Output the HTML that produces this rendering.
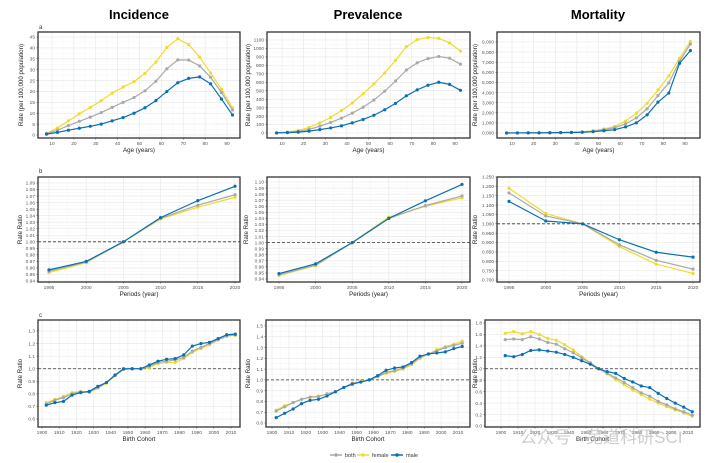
<!DOCTYPE html>
<html><head><meta charset="utf-8">
<style>
body{margin:0;background:#fff;}
svg{display:block;font-family:"Liberation Sans",sans-serif;}
</style></head>
<body>
<svg id="chart" width="709" height="463" viewBox="0 0 709 463">
<text x="139" y="19" text-anchor="middle" font-size="13" font-weight="bold">Incidence</text>
<text x="368" y="19" text-anchor="middle" font-size="13" font-weight="bold">Prevalence</text>
<text x="598" y="19" text-anchor="middle" font-size="13" font-weight="bold">Mortality</text>
<text x="39" y="29" font-size="6" fill="#333">a</text>
<text x="39" y="173" font-size="6" fill="#333">b</text>
<text x="39" y="317" font-size="6" fill="#333">c</text>
<g id="panels"></g>
<g>
<g><line x1="330" y1="455" x2="342" y2="455" stroke="#a9a9a9" stroke-width="1.5"/><circle cx="336" cy="455" r="1.8" fill="#a9a9a9"/><text x="345" y="457" font-size="5.5" fill="#333">both</text></g>
<g><line x1="357" y1="455" x2="369" y2="455" stroke="#f0dc2a" stroke-width="1.5"/><circle cx="363" cy="455" r="1.8" fill="#f0dc2a"/><text x="372" y="457" font-size="5.5" fill="#333">female</text></g>
<g><line x1="391" y1="455" x2="403" y2="455" stroke="#0a6fb5" stroke-width="1.5"/><circle cx="397" cy="455" r="1.8" fill="#0a6fb5"/><text x="406" y="457" font-size="5.5" fill="#333">male</text></g>
</g>
<text x="520" y="443" font-size="17" fill="#bbb" opacity="0.75" font-family="'Liberation Sans','Noto Sans CJK SC',sans-serif">公众号 · 芜道科研SCI</text>
</svg>
<script>
// ---- data ----
const ages=[7.5,12.5,17.5,22.5,27.5,32.5,37.5,42.5,47.5,52.5,57.5,62.5,67.5,72.5,77.5,82.5,87.5,92.5];
const periods=[1995,2000,2005,2010,2015,2020];
const cohorts=[1902.5,1907.5,1912.5,1917.5,1922.5,1927.5,1932.5,1937.5,1942.5,1947.5,1952.5,1957.5,1962.5,1967.5,1972.5,1977.5,1982.5,1987.5,1992.5,1997.5,2002.5,2007.5,2012.5];
const incFemale=[0.8,3.2,6.5,9.7,12.7,15.8,19.2,22,24.5,28.3,33.5,40.2,44.2,41.5,35.8,28.5,21,12.5];
const incBoth=[0.6,2.2,4.3,6.3,8.2,10.3,12.7,15,17.2,20.3,24.7,30.4,34.5,34.4,31.7,26.5,19.5,11.5];
const incMale=[0.4,1.2,2.2,3.1,4,5,6.5,8,10,12.5,15.8,20,24,26,26.7,23.5,16.5,9.2];
const prevFemale=[2,12,30,65,120,185,265,355,465,580,710,860,1020,1105,1130,1120,1065,970];
const prevBoth=[1,8,20,42,80,125,175,235,305,390,495,615,745,830,880,905,885,815];
const prevMale=[0.5,4,10,22,40,60,85,120,160,210,275,350,440,510,565,600,575,505];
const mortFemale=[5,10,15,25,40,60,90,130,230,400,650,1180,1950,2950,4250,5650,7400,9050];
const mortBoth=[4,8,12,20,30,45,70,100,180,330,520,900,1500,2400,3700,4950,7100,8800];
const mortMale=[3,6,10,15,22,35,50,70,130,220,330,600,1000,1800,3050,3950,6900,8150];
const pIncBoth=[0.955,0.969,1.0,1.036,1.056,1.072];
const pIncFemale=[0.953,0.968,1.0,1.035,1.053,1.068];
const pIncMale=[0.957,0.970,1.0,1.037,1.063,1.085];
const pPrevBoth=[0.947,0.963,1.0,1.040,1.061,1.077];
const pPrevFemale=[0.946,0.962,1.0,1.042,1.060,1.074];
const pPrevMale=[0.949,0.965,1.0,1.040,1.069,1.096];
const pMortBoth=[1.165,1.042,1.0,0.888,0.805,0.758];
const pMortFemale=[1.19,1.055,1.0,0.878,0.785,0.735];
const pMortMale=[1.12,1.015,1.0,0.915,0.848,0.822];
const cIncMale=[0.71,0.73,0.74,0.79,0.81,0.82,0.86,0.89,0.95,1.0,1.0,1.0,1.03,1.06,1.075,1.08,1.11,1.18,1.20,1.21,1.24,1.27,1.275];
const cIncBoth=[0.72,0.75,0.77,0.80,0.815,0.815,0.85,0.89,0.945,0.995,1.0,1.0,1.02,1.05,1.06,1.07,1.09,1.14,1.17,1.20,1.23,1.26,1.27];
const cIncFemale=[0.73,0.755,0.78,0.81,0.82,0.81,0.845,0.885,0.945,0.995,1.0,1.0,1.01,1.04,1.05,1.05,1.08,1.13,1.16,1.19,1.23,1.26,1.265];
const cPrevMale=[0.65,0.69,0.73,0.78,0.81,0.82,0.85,0.89,0.93,0.96,0.98,1.0,1.04,1.09,1.11,1.12,1.16,1.22,1.24,1.25,1.26,1.29,1.31];
const cPrevBoth=[0.71,0.75,0.79,0.82,0.84,0.845,0.87,0.89,0.93,0.97,0.98,1.0,1.03,1.07,1.085,1.11,1.15,1.21,1.24,1.27,1.30,1.32,1.34];
const cPrevFemale=[0.72,0.76,0.79,0.82,0.84,0.85,0.87,0.89,0.93,0.97,0.985,1.0,1.03,1.06,1.08,1.10,1.14,1.20,1.24,1.28,1.31,1.33,1.36];
const cMortFemale=[1.62,1.65,1.61,1.65,1.60,1.53,1.50,1.42,1.33,1.21,1.11,1.0,0.91,0.81,0.72,0.63,0.55,0.47,0.40,0.34,0.28,0.23,0.17];
const cMortBoth=[1.51,1.52,1.51,1.56,1.52,1.46,1.43,1.35,1.28,1.19,1.10,1.0,0.92,0.84,0.76,0.67,0.58,0.52,0.43,0.37,0.30,0.25,0.19];
const cMortMale=[1.23,1.21,1.25,1.32,1.33,1.31,1.29,1.25,1.20,1.14,1.08,1.0,0.95,0.92,0.83,0.77,0.70,0.67,0.57,0.48,0.40,0.33,0.25];
const ageTicks=[10,20,30,40,50,60,70,80,90];
const periodTicks=[1995,2000,2005,2010,2015,2020];
const cohortTicks=[1900,1910,1920,1930,1940,1950,1960,1970,1980,1990,2000,2010];
const incTicks=[0,5,10,15,20,25,30,35,40,45];
const prevTicks=[0,100,200,300,400,500,600,700,800,900,1000,1100];
const mortTicks=[0,1000,2000,3000,4000,5000,6000,7000,8000,9000];
const pIncTicks=[0.94,0.95,0.96,0.97,0.98,0.99,1.00,1.01,1.02,1.03,1.04,1.05,1.06,1.07,1.08,1.09];
const pPrevTicks=[0.94,0.95,0.96,0.97,0.98,0.99,1.00,1.01,1.02,1.03,1.04,1.05,1.06,1.07,1.08,1.09,1.10];
const pMortTicks=[0.70,0.75,0.80,0.85,0.90,0.95,1.00,1.05,1.10,1.15,1.20,1.25];
const cIncTicks=[0.6,0.7,0.8,0.9,1.0,1.1,1.2,1.3];
const cPrevTicks=[0.6,0.7,0.8,0.9,1.0,1.1,1.2,1.3,1.4,1.5];
const cMortTicks=[0,0.2,0.4,0.6,0.8,1.0,1.2,1.4,1.6,1.8];

const COL={both:"#a9a9a9",female:"#f0dc2a",male:"#0a6fb5"};
const NS="http://www.w3.org/2000/svg";
const root=document.getElementById('panels');
function mk(tag,attrs,parent){const e=document.createElementNS(NS,tag);for(const k in attrs)e.setAttribute(k,attrs[k]);parent.appendChild(e);return e;}
function lin(d0,d1,r0,r1){return v=>r0+(v-d0)*(r1-r0)/(d1-d0);}

function panel(p){
  const g=mk('g',{},root);
  
  
  const xs=lin(p.xd[0],p.xd[1],p.xr[0],p.xr[1]);
  const ys=lin(p.yd[0],p.yd[1],p.yr[0],p.yr[1]);
  const b=p.box;
  mk('rect',{x:b[0],y:b[1],width:b[2]-b[0],height:b[3]-b[1],fill:'#fff'},g);
  // grid
  const grid=mk('g',{},g);
  
  
  const xt=p.xticks, yt=p.yticks;
  for(let i=0;i<xt.length;i++){
    const x=xs(xt[i]);
    mk('line',{x1:x,x2:x,y1:b[1],y2:b[3],stroke:'#e6e6e6','stroke-width':0.6},grid);
    if(i<xt.length-1){const xm=xs((xt[i]+xt[i+1])/2);mk('line',{x1:xm,x2:xm,y1:b[1],y2:b[3],stroke:'#f2f2f2','stroke-width':0.4},grid);}
    const t=mk('text',{x:x,y:b[3]+7,'text-anchor':'middle','font-size':4.8,fill:'#555'},g);
    t.textContent=xt[i];
    
    
    mk('line',{x1:x,x2:x,y1:b[3],y2:b[3]+1.5,stroke:'#333','stroke-width':0.5},g);
  }
  for(let i=0;i<yt.length;i++){
    const y=ys(yt[i]);
    mk('line',{x1:b[0],x2:b[2],y1:y,y2:y,stroke:'#e6e6e6','stroke-width':0.6},grid);
    if(i<yt.length-1){const ym=ys((yt[i]+yt[i+1])/2);mk('line',{x1:b[0],x2:b[2],y1:ym,y2:ym,stroke:'#f2f2f2','stroke-width':0.4},grid);}
    const t=mk('text',{x:b[0]-3,y:y+1.7,'text-anchor':'end','font-size':4.8,fill:'#555'},g);
    t.textContent=p.fmt(yt[i]);
    
    
    mk('line',{x1:b[0]-1.5,x2:b[0],y1:y,y2:y,stroke:'#333','stroke-width':0.5},g);
  }
  if(p.ref){mk('line',{x1:b[0],x2:b[2],y1:ys(1),y2:ys(1),stroke:'#333','stroke-width':0.8,'stroke-dasharray':'3,2'},g);}
  const order=[['female',p.female],['both',p.both],['male',p.male]];
  for(const [nm,vals] of order){
    const s=mk('g',{},g);
    
    
    const pts=vals.map((v,i)=>xs(p.x[i]).toFixed(2)+','+ys(v).toFixed(2)).join(' ');
    const pl=mk('polyline',{points:pts,fill:'none',stroke:COL[nm],'stroke-width':1.2,'stroke-linejoin':'round'},s);
    
    
    vals.forEach((v,i)=>{
      const c=mk('circle',{cx:xs(p.x[i]),cy:ys(v),r:1.6,fill:COL[nm]},s);
      
      
    });
  }
  mk('rect',{x:b[0],y:b[1],width:b[2]-b[0],height:b[3]-b[1],fill:'none',stroke:'#333','stroke-width':1.3},g);
  const xtl=mk('text',{x:(b[0]+b[2])/2,y:b[3]+14,'text-anchor':'middle','font-size':6.2,fill:'#222'},g);
  xtl.textContent=p.xtitle;
  
  
  const yx=p.ytx, yy=(b[1]+b[3])/2;
  const ytl=mk('text',{x:yx,y:yy,'text-anchor':'middle','font-size':6.2,fill:'#222',transform:'rotate(-90 '+yx+' '+yy+')'},g);
  ytl.textContent=p.ytitle;
  
  
}
const rateT="Rate (per 100,000 population)";
const f0=v=>String(v), f2=v=>v.toFixed(2), f1=v=>v.toFixed(1), f3=v=>v.toFixed(3);
const fk=v=>(v/1000).toFixed(3).replace('.',',');
panel({name:'incidence-age',box:[38,32,240,138],x:ages,xd:[10,90],xr:[52,227],yd:[0,45],yr:[135,37],xticks:ageTicks,yticks:incTicks,fmt:f0,both:incBoth,female:incFemale,male:incMale,xtitle:'Age (years)',ytitle:rateT,ytx:23});
panel({name:'prevalence-age',box:[267,32,470,138],x:ages,xd:[10,90],xr:[282,455],yd:[0,1100],yr:[133,40],xticks:ageTicks,yticks:prevTicks,fmt:f0,both:prevBoth,female:prevFemale,male:prevMale,xtitle:'Age (years)',ytitle:rateT,ytx:250});
panel({name:'mortality-age',box:[497,32,700,138],x:ages,xd:[10,90],xr:[512,685],yd:[0,9000],yr:[133,42],xticks:ageTicks,yticks:mortTicks,fmt:fk,both:mortBoth,female:mortFemale,male:mortMale,xtitle:'Age (years)',ytitle:rateT,ytx:477});
panel({name:'incidence-period',box:[38,177,240,282],x:periods,xd:[1995,2020],xr:[49,235],yd:[0.94,1.09],yr:[281,183],xticks:periodTicks,yticks:pIncTicks,fmt:f2,both:pIncBoth,female:pIncFemale,male:pIncMale,ref:true,xtitle:'Periods (year)',ytitle:'Rate Ratio',ytx:22});
panel({name:'prevalence-period',box:[267,177,470,282],x:periods,xd:[1995,2020],xr:[279,462],yd:[0.94,1.10],yr:[279,182],xticks:periodTicks,yticks:pPrevTicks,fmt:f2,both:pPrevBoth,female:pPrevFemale,male:pPrevMale,ref:true,xtitle:'Periods (year)',ytitle:'Rate Ratio',ytx:248});
panel({name:'mortality-period',box:[497,177,700,282],x:periods,xd:[1995,2020],xr:[509,693],yd:[0.70,1.25],yr:[280,177],xticks:periodTicks,yticks:pMortTicks,fmt:f3,both:pMortBoth,female:pMortFemale,male:pMortMale,ref:true,xtitle:'Periods (year)',ytitle:'Rate Ratio',ytx:477});
panel({name:'incidence-cohort',box:[38,320,240,427],x:cohorts,xd:[1900,2010],xr:[42,231],yd:[0.6,1.3],yr:[419,331],xticks:cohortTicks,yticks:cIncTicks,fmt:f1,both:cIncBoth,female:cIncFemale,male:cIncMale,ref:true,xtitle:'Birth Cohort',ytitle:'Rate Ratio',ytx:22});
panel({name:'prevalence-cohort',box:[266,320,470,427],x:cohorts,xd:[1900,2010],xr:[272,458],yd:[0.6,1.5],yr:[423,326],xticks:cohortTicks,yticks:cPrevTicks,fmt:f1,both:cPrevBoth,female:cPrevFemale,male:cPrevMale,ref:true,xtitle:'Birth Cohort',ytitle:'Rate Ratio',ytx:250});
panel({name:'mortality-cohort',box:[485,320,700,427],x:cohorts,xd:[1900,2010],xr:[501,688],yd:[0,1.8],yr:[426,323],xticks:cohortTicks,yticks:cMortTicks,fmt:f1,both:cMortBoth,female:cMortFemale,male:cMortMale,ref:true,xtitle:'Birth Cohort',ytitle:'Rate Ratio',ytx:477});
</script>
</body></html>
